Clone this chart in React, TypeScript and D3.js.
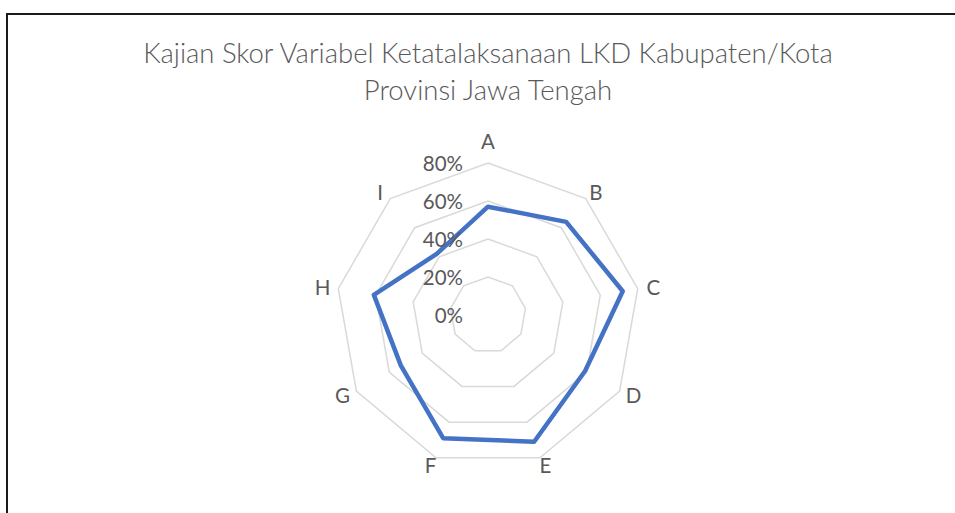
import { useMemo } from "react";
import * as d3 from "d3";

// Category axes and scores (fraction of 1)
const categories = ["A", "B", "C", "D", "E", "F", "G", "H", "I"];
const scores = [0.57, 0.64, 0.72, 0.59, 0.71, 0.69, 0.53, 0.61, 0.42];
const ringTicks = [0, 0.2, 0.4, 0.6, 0.8];
const titleLines = [
  "Kajian Skor Variabel Ketatalaksanaan LKD Kabupaten/Kota",
  "Provinsi Jawa Tengah",
];

const W = 955;
const H = 513;
const cx = 488;
const cy = 315;
const outerR = 152;
const textColor = "#595959";
const font = "Lato, 'Open Sans', sans-serif";

export default function App() {
  const r = useMemo(
    () => d3.scaleLinear().domain([0, 0.8]).range([0, outerR]),
    []
  );
  const angle = d3
    .scaleLinear()
    .domain([0, categories.length])
    .range([0, 2 * Math.PI]);

  const ringPath = (v: number) =>
    d3
      .lineRadial<string>()
      .angle((_d, i) => angle(i))
      .radius(() => r(v))
      .curve(d3.curveLinearClosed)(categories);

  const dataPath = d3
    .lineRadial<number>()
    .angle((_d, i) => angle(i))
    .radius((d) => r(d))
    .curve(d3.curveLinearClosed)(scores);

  // label offsets: a bit wider sideways than vertically, like Excel does
  const labelRx = r(0.8) + 16;
  const labelRy = r(0.8) + 8;

  return (
    <svg
      width={W}
      height={H}
      style={{ position: "absolute", left: 0, top: 0 }}
    >
      <rect x={0} y={0} width={W} height={H} fill="#fff" />
      <rect
        x={7}
        y={14}
        width={1000}
        height={1000}
        fill="none"
        stroke="#1a1a1a"
        strokeWidth={2}
      />
      <g fontFamily={font} fill={textColor} textAnchor="middle">
        {titleLines.map((t, i) => (
          <text key={t} x={cx} y={63 + i * 37} fontSize={27.5} fontWeight={300}>
            {t}
          </text>
        ))}
      </g>
      <g transform={`translate(${cx},${cy})`}>
        {ringTicks
          .filter((v) => v > 0)
          .map((v) => (
            <path
              key={v}
              d={ringPath(v) ?? ""}
              fill="none"
              stroke="#d9d9d9"
              strokeWidth={1.5}
            />
          ))}
        <path
          d={dataPath ?? ""}
          fill="none"
          stroke="#4472c4"
          strokeWidth={4.5}
          strokeLinejoin="round"
        />
        <g fontFamily={font} fontSize={20.5} fill={textColor}>
          {ringTicks.map((v) => (
            <text
              key={v}
              x={-25}
              y={-r(v)}
              textAnchor="end"
              dominantBaseline="central"
            >
              {d3.format(".0%")(v)}
            </text>
          ))}
          {categories.map((c, i) => {
            const a = angle(i);
            const ry = i === 0 ? r(0.8) + 22 : labelRy;
            return (
              <text
                key={c}
                x={Math.sin(a) * labelRx}
                y={-Math.cos(a) * ry}
                textAnchor="middle"
                dominantBaseline="central"
              >
                {c}
              </text>
            );
          })}
        </g>
      </g>
    </svg>
  );
}
